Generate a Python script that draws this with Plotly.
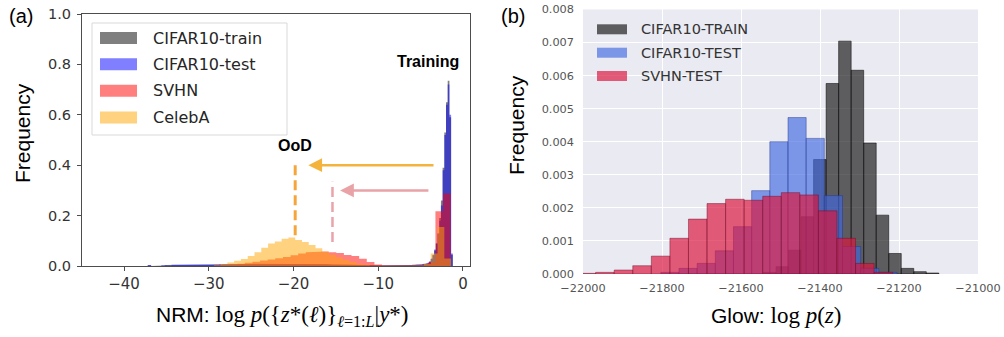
import plotly.graph_objects as go

W, H = 1004, 337

# ---------------- Panel (a): NRM log-likelihood histograms ----------------
nrm_tail_start = -37.2
nrm_tail_width = 0.4
nrm_peak_start = -4.4
nrm_peak_width = 0.2

cifar_test_tail = [
    0.004, 0.0, 0.002, 0.0, 0.003, 0.004, 0.002, 0.005, 0.003, 0.004,
    0.005, 0.004, 0.006, 0.005, 0.004, 0.006, 0.005, 0.004, 0.006, 0.005,
    0.006, 0.007, 0.006, 0.007, 0.008, 0.007, 0.008, 0.008, 0.007, 0.008,
    0.008, 0.009, 0.008, 0.009, 0.008, 0.009, 0.009, 0.008, 0.009, 0.008,
    0.009, 0.008, 0.009, 0.008, 0.008, 0.009, 0.008, 0.007, 0.008, 0.007,
    0.007, 0.008, 0.007, 0.006, 0.007, 0.006, 0.006, 0.005, 0.006, 0.005,
    0.005, 0.004, 0.005, 0.004, 0.004, 0.003, 0.004, 0.003, 0.002, 0.003,
    0.002, 0.002, 0.003, 0.002, 0.002, 0.003, 0.003, 0.004, 0.004, 0.005,
    0.006, 0.007,
]
cifar_test_peak = [0.009, 0.012, 0.018, 0.03, 0.045, 0.065, 0.09, 0.13,
                   0.18, 0.24, 0.38, 0.52, 0.64, 0.72, 0.60, 0.05]

cifar_train_tail = [
    0.003, 0.0, 0.002, 0.0, 0.002, 0.004, 0.003, 0.004, 0.003, 0.004,
    0.004, 0.005, 0.005, 0.005, 0.004, 0.005, 0.005, 0.005, 0.006, 0.005,
    0.006, 0.006, 0.007, 0.007, 0.007, 0.008, 0.008, 0.007, 0.008, 0.008,
    0.008, 0.008, 0.009, 0.008, 0.009, 0.008, 0.009, 0.009, 0.008, 0.009,
    0.008, 0.009, 0.008, 0.008, 0.009, 0.008, 0.008, 0.008, 0.007, 0.007,
    0.008, 0.007, 0.007, 0.007, 0.006, 0.006, 0.005, 0.006, 0.005, 0.005,
    0.004, 0.005, 0.004, 0.004, 0.003, 0.004, 0.003, 0.003, 0.003, 0.002,
    0.002, 0.003, 0.002, 0.002, 0.003, 0.002, 0.003, 0.004, 0.005, 0.005,
    0.006, 0.008,
]
cifar_train_peak = [0.008, 0.011, 0.017, 0.028, 0.043, 0.062, 0.088, 0.128,
                    0.19, 0.26, 0.39, 0.53, 0.65, 0.735, 0.59, 0.045]

svhn_start = -29.35
svhn_width = 0.9
svhn_freq = [0.002, 0.004, 0.006, 0.009, 0.013, 0.017, 0.022, 0.026, 0.031, 0.036,
             0.043, 0.050, 0.055, 0.057, 0.058, 0.055, 0.052, 0.044, 0.040, 0.029,
             0.016, 0.006, 0.002, 0.001, 0.001, 0.001, 0.002, 0.004, 0.015, 0.217,
             0.288]

celeba_start = -29.4
celeba_width = 0.8
celeba_freq = [0.003, 0.008, 0.014, 0.021, 0.028, 0.040, 0.055, 0.072, 0.089, 0.097,
               0.108, 0.113, 0.103, 0.095, 0.083, 0.070, 0.057, 0.045, 0.035, 0.025,
               0.016, 0.009, 0.005, 0.002, 0.001, 0.0, 0.0, 0.0, 0.0, 0.001,
               0.002, 0.008, 0.050, 0.155, 0.030]

nrm_labels = ["CIFAR10-train", "CIFAR10-test", "SVHN", "CelebA"]
nrm_xticks = [-40, -30, -20, -10, 0]
nrm_yticks = [0, 0.2, 0.4, 0.6, 0.8, 1.0]

# annotation anchors (data units of panel a)
training_label = (-4.07, 0.81)
ood_label = (-19.88, 0.48)
celeba_mean_x, celeba_line_y = -19.8, (0.122, 0.407)
svhn_mean_x, svhn_line_y = -15.4, (0.095, 0.334)
celeba_arrow = (-3.3, -18.25, 0.40)
svhn_arrow = (-3.9, -14.5, 0.30)

# ---------------- Panel (b): Glow log p(z) histograms ----------------
glow_labels = ["CIFAR10-TRAIN", "CIFAR10-TEST", "SVHN-TEST"]
glow_train_start, glow_train_width = -21543, 31.7
glow_train_freq = [0.00005, 0.00022, 0.00072, 0.00173, 0.00346, 0.00576, 0.00704,
                   0.00616, 0.00396, 0.00178, 0.00062, 0.00017, 0.00007, 0.00003]
glow_test_start, glow_test_width = -21803, 46.0
glow_test_freq = [0.00005, 0.00017, 0.00032, 0.00070, 0.00143, 0.00252, 0.00400,
                  0.00473, 0.00410, 0.00237, 0.00083, 0.00017, 0.00005]
glow_svhn_start, glow_svhn_width = -22015, 47.0
glow_svhn_freq = [0.00002, 0.00005, 0.00012, 0.00025, 0.00054, 0.00108, 0.00166,
                  0.00213, 0.00226, 0.00223, 0.00235, 0.00246, 0.00239, 0.00191,
                  0.00108, 0.00032, 0.00005]
glow_xticks = [-22000, -21800, -21600, -21400, -21200, -21000]
glow_yticks = [0, 0.001, 0.002, 0.003, 0.004, 0.005, 0.006, 0.007, 0.008]

# ---------------- helpers ----------------
def px(x):
    return x / W

def py(y):
    return 1 - y / H

def steps(start, width, freqs):
    xs, ys = [], []
    for i, f in enumerate(freqs):
        xs += [start + i * width, start + (i + 1) * width]
        ys += [f, f]
    return xs, ys

def two_part(tail, peak):
    x1, y1 = steps(nrm_tail_start, nrm_tail_width, tail)
    x2, y2 = steps(nrm_peak_start, nrm_peak_width, peak)
    return x1 + x2, y1 + y2

def minus(v, fmt):
    s = fmt.format(abs(v))
    return ("\u2212" + s) if v < 0 else s

fig = go.Figure()

nrm_colors = ["rgba(0,0,0,0.5)", "rgba(0,0,255,0.5)", "rgba(255,0,0,0.5)", "rgba(255,165,0,0.5)"]
nrm_series = [
    two_part(cifar_train_tail, cifar_train_peak),
    two_part(cifar_test_tail, cifar_test_peak),
    steps(svhn_start, svhn_width, svhn_freq),
    steps(celeba_start, celeba_width, celeba_freq),
]
for (xs, ys), col, name in zip(nrm_series, nrm_colors, nrm_labels):
    fig.add_trace(go.Scatter(x=xs, y=ys, mode="lines", fill="tozeroy", fillcolor=col,
                             line=dict(width=0, color=col), name=name, showlegend=False,
                             xaxis="x", yaxis="y"))

glow_colors = ["rgba(20,20,20,0.66)", "rgba(65,105,225,0.65)", "rgba(220,20,60,0.68)"]
glow_edges = ["rgba(0,0,0,0.5)", "rgba(30,50,140,0.45)", "rgba(110,10,40,0.45)"]
glow_series = [
    (glow_train_start, glow_train_width, glow_train_freq),
    (glow_test_start, glow_test_width, glow_test_freq),
    (glow_svhn_start, glow_svhn_width, glow_svhn_freq),
]
for (s, w, fr), col, ecol, name in zip(glow_series, glow_colors, glow_edges, glow_labels):
    fig.add_trace(go.Bar(x=[s + w * (i + 0.5) for i in range(len(fr))], y=fr, width=w,
                         marker=dict(color=col, line=dict(color=ecol, width=1)),
                         name=name, showlegend=False, xaxis="x2", yaxis="y2"))

shapes = []
annotations = []

# right panel background
shapes.append(dict(type="rect", xref="x2 domain", yref="y2 domain", x0=0, x1=1, y0=0, y1=1,
                   fillcolor="#EAEAF2", line=dict(width=0), layer="below"))

# dashed mean lines
shapes.append(dict(type="line", xref="x", yref="y", x0=celeba_mean_x, x1=celeba_mean_x,
                   y0=celeba_line_y[0], y1=celeba_line_y[1],
                   line=dict(color="#F5A53A", width=3, dash="10px,5px")))
shapes.append(dict(type="line", xref="x", yref="y", x0=svhn_mean_x, x1=svhn_mean_x,
                   y0=svhn_line_y[0], y1=svhn_line_y[1],
                   line=dict(color="#E9A3A9", width=2.5, dash="10px,5px")))

# arrows
for (x_from, x_to, yv), col in [(celeba_arrow, "#F4B43C"), (svhn_arrow, "#E9A3A7")]:
    annotations.append(dict(x=x_to, y=yv, ax=x_from, ay=yv, xref="x", yref="y",
                            axref="x", ayref="y", text="", showarrow=True,
                            arrowhead=2, arrowsize=1.1, arrowwidth=2.5, arrowcolor=col))

annotations.append(dict(x=training_label[0], y=training_label[1], xref="x", yref="y",
                        text="<b>Training</b>", showarrow=False,
                        font=dict(family="Liberation Sans", size=16, color="black")))
annotations.append(dict(x=ood_label[0], y=ood_label[1], xref="x", yref="y",
                        text="<b>OoD</b>", showarrow=False,
                        font=dict(family="Liberation Sans", size=16, color="black")))

# left legend (custom, matplotlib style)
shapes.append(dict(type="rect", xref="paper", yref="paper", x0=px(92), x1=px(287),
                   y0=py(135), y1=py(23), fillcolor="rgba(255,255,255,0.85)",
                   line=dict(color="#D9D9D9", width=1), layer="above"))
leg_a_rows = [38, 64.3, 90.7, 117.5]
for yrow, col, name in zip(leg_a_rows, nrm_colors, nrm_labels):
    shapes.append(dict(type="rect", xref="paper", yref="paper", x0=px(100), x1=px(137),
                       y0=py(yrow + 6), y1=py(yrow - 6), fillcolor=col,
                       line=dict(width=0), layer="above"))
    annotations.append(dict(x=px(151), y=py(yrow), xref="paper", yref="paper", text=name,
                            showarrow=False, xanchor="left", yanchor="middle",
                            font=dict(family="DejaVu Sans", size=16, color="#262626")))

# right legend
leg_b_rows = [29.3, 52.7, 76]
for yrow, col, name in zip(leg_b_rows, glow_colors, glow_labels):
    shapes.append(dict(type="rect", xref="paper", yref="paper", x0=px(597), x1=px(627),
                       y0=py(yrow + 5), y1=py(yrow - 5), fillcolor=col,
                       line=dict(width=0), layer="above"))
    annotations.append(dict(x=px(639), y=py(yrow), xref="paper", yref="paper", text=name,
                            showarrow=False, xanchor="left", yanchor="middle",
                            font=dict(family="DejaVu Sans", size=14.5, color="#333333")))

# panel tags and axis titles
centered = dict(xref="paper", yref="paper", showarrow=False, xanchor="center", yanchor="middle")
annotations += [
    dict(x=px(20.5), y=py(16), text="(a)",
         font=dict(family="Liberation Sans", size=20, color="black"), **centered),
    dict(x=px(512.5), y=py(16), text="(b)",
         font=dict(family="Liberation Sans", size=20, color="black"), **centered),
    dict(x=px(22), y=py(133), text="Frequency", textangle=-90,
         font=dict(family="Liberation Sans", size=21, color="black"), **centered),
    dict(x=px(516), y=py(125), text="Frequency", textangle=-90,
         font=dict(family="Liberation Sans", size=21, color="black"), **centered),
    dict(x=px(282), y=py(316),
         text=('NRM: <span style="font-family:Liberation Serif;font-size:23px">log <i>p</i>'
               '({<i>z</i>*(<i>ℓ</i>)}<sub><i>ℓ</i>=1:<i>L</i></sub>|<i>y</i>*)</span>'),
         font=dict(family="Liberation Sans", size=21, color="black"), **centered),
    dict(x=px(776), y=py(315),
         text='Glow: <span style="font-family:Liberation Serif;font-size:23px">log <i>p</i>(<i>z</i>)</span>',
         font=dict(family="Liberation Sans", size=21, color="black"), **centered),
]

fig.update_layout(
    width=W, height=H, margin=dict(l=0, r=0, t=0, b=0, pad=0, autoexpand=False),
    paper_bgcolor="white", plot_bgcolor="rgba(0,0,0,0)",
    barmode="overlay", showlegend=False,
    shapes=shapes, annotations=annotations,
    xaxis=dict(domain=[px(82), px(470)], range=[-44.96, 0.83], tickvals=nrm_xticks,
               ticktext=[minus(v, "{:d}") for v in nrm_xticks],
               showline=True, mirror=True, linecolor="#4d4d4d", linewidth=1.2,
               ticks="outside", ticklen=4, tickcolor="#4d4d4d", showgrid=False, zeroline=False,
               tickfont=dict(family="DejaVu Sans", size=15, color="#333333"), anchor="y",
               automargin=False),
    yaxis=dict(domain=[py(266), py(14)], range=[0, 1.0], tickvals=nrm_yticks,
               ticktext=["{:.1f}".format(v) for v in nrm_yticks],
               showline=True, mirror=True, linecolor="#4d4d4d", linewidth=1.2,
               ticks="outside", ticklen=4, tickcolor="#4d4d4d", showgrid=False, zeroline=False,
               tickfont=dict(family="DejaVu Sans", size=14.5, color="#333333"), anchor="x",
               ticklabelstandoff=3, automargin=False),
    xaxis2=dict(domain=[px(583), px(978)], range=[-22000, -21000],
                tickvals=glow_xticks, ticktext=[minus(v, "{:d}") for v in glow_xticks],
                showline=False, ticks="", showgrid=True, gridcolor="white", gridwidth=1.3,
                zeroline=False, tickfont=dict(family="DejaVu Sans", size=11.3, color="#555555"),
                anchor="y2", ticklabelstandoff=6, automargin=False),
    yaxis2=dict(domain=[py(274), py(9.4)], range=[0, 0.008],
                tickvals=glow_yticks, ticktext=["{:.3f}".format(v) for v in glow_yticks],
                showline=False, ticks="", showgrid=True, gridcolor="white",
                gridwidth=1.3, zeroline=False,
                tickfont=dict(family="DejaVu Sans", size=11.3, color="#555555"),
                anchor="x2", ticklabelstandoff=8, automargin=False),
)

fig.write_html("out.html", config={"displayModeBar": False},
               post_script="document.body.style.margin='0';")
